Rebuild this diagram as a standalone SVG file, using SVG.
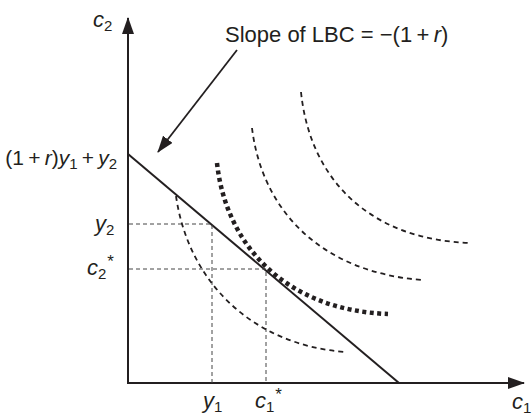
<svg xmlns="http://www.w3.org/2000/svg" width="532" height="415" viewBox="0 0 532 415">
<style>
.ax{stroke:#231f20;stroke-width:2;fill:none}
.bl{stroke:#231f20;stroke-width:2;fill:none}
.guide{stroke:#444;stroke-width:1;stroke-dasharray:4 3;fill:none}
.ic{stroke:#231f20;stroke-width:1.8;stroke-dasharray:5 4;fill:none}
.icb{stroke:#231f20;stroke-width:4.5;stroke-dasharray:4 3.5;fill:none}
text{font-family:"Liberation Sans",Arial,sans-serif;fill:#231f20;font-size:22px}
.v{font-style:italic}
.s{font-size:15px;font-style:normal}
.st{font-size:17px;font-style:normal}
</style>
<defs>
<marker id="ah" markerWidth="17" markerHeight="12" refX="16" refY="6" orient="auto" markerUnits="userSpaceOnUse">
<path d="M0,0 L17,6 L0,12 Z" fill="#231f20"/>
</marker>
</defs>
<g id="connectors">
<line class="ax" x1="128" y1="383" x2="128" y2="18" marker-end="url(#ah)"/>
<line class="ax" x1="127" y1="383" x2="524" y2="383" marker-end="url(#ah)"/>
<line class="bl" x1="128" y1="154" x2="399" y2="383"/>
<line stroke="#231f20" stroke-width="1.8" x1="237" y1="50" x2="158" y2="152" marker-end="url(#ah)"/>
<path class="guide" d="M129,224 H212 V383"/>
<path class="guide" d="M129,269 H266 V383"/>
</g>
<g id="curves">
<path id="ic1" class="ic" d="M176,196 C188,280 250,345 346,352"/>
<path id="ic2" class="icb" d="M217,163 C226,245 285,310 388,314"/>
<path id="ic3" class="ic" d="M252,128 C262,210 320,272 422,280"/>
<path id="ic4" class="ic" d="M301,92 C310,180 370,240 471,243"/>
</g>
<g id="labels">
<text x="93" y="27" class="v">c<tspan class="s" dy="4">2</tspan></text>
<text x="225" y="42">Slope of LBC = −(1&#8201;+&#8201;<tspan class="v">r</tspan>)</text>
<text x="117" y="165" text-anchor="end" style="font-size:21px">(1&#8201;+&#8201;<tspan class="v">r</tspan>)<tspan class="v">y</tspan><tspan class="s" dy="4">1</tspan><tspan dy="-4">&#8201;+&#8201;</tspan><tspan class="v">y</tspan><tspan class="s" dy="4">2</tspan></text>
<text x="95" y="231" class="v">y<tspan class="s" dy="4">2</tspan></text>
<text x="87" y="275" class="v">c<tspan class="s" dy="4">2</tspan><tspan class="st" dx="1" dy="-12">*</tspan></text>
<text x="203" y="408" class="v">y<tspan class="s" dy="4">1</tspan></text>
<text x="255" y="408" class="v">c<tspan class="s" dy="4">1</tspan><tspan class="st" dx="1" dy="-12">*</tspan></text>
<text x="512" y="409" class="v">c<tspan class="s" dy="4">1</tspan></text>
</g>
</svg>
